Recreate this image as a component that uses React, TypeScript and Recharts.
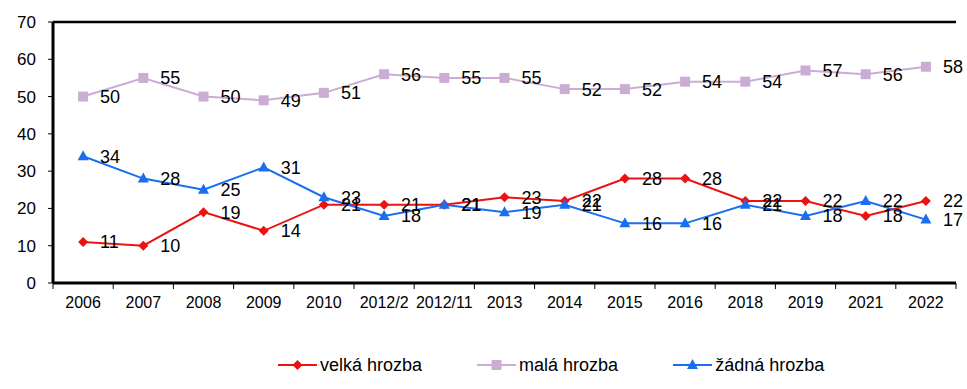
import React from "react";
import { LineChart, Line, XAxis, YAxis, CartesianGrid, Legend, LabelList, ReferenceLine } from "recharts";

const YEARS = ["2006", "2007", "2008", "2009", "2010", "2012/2", "2012/11", "2013", "2014", "2015", "2016", "2018", "2019", "2021", "2022"];
const VELKA = [11, 10, 19, 14, 21, 21, 21, 23, 22, 28, 28, 22, 22, 18, 22];
const MALA = [50, 55, 50, 49, 51, 56, 55, 55, 52, 52, 54, 54, 57, 56, 58];
const ZADNA = [34, 28, 25, 31, 23, 18, 21, 19, 21, 16, 16, 21, 18, 22, 17];
const Y_TICKS = [0, 10, 20, 30, 40, 50, 60, 70];

const SERIES = [
  { key: "velka", name: "velká hrozba", color: "#ee1111", shape: "diamond" },
  { key: "mala", name: "malá hrozba", color: "#cbadd3", shape: "square" },
  { key: "zadna", name: "žádná hrozba", color: "#1a6ef0", shape: "triangle" },
];

const data = YEARS.map((year, i) => ({ year, velka: VELKA[i], mala: MALA[i], zadna: ZADNA[i] }));

const W = 967;
const H = 389;
const M = { top: 22, right: 11, left: 0, bottom: 56 };
const Y_AXIS_W = 53;
const BAND = (W - M.left - M.right - Y_AXIS_W) / YEARS.length;
const FONT = "Arial, 'Liberation Sans', sans-serif";

function Marker({ cx, cy, shape, color }: { cx: number; cy: number; shape: string; color: string }) {
  if (cx == null || cy == null) return null;
  if (shape === "diamond") {
    return <polygon points={`${cx},${cy - 5} ${cx + 5},${cy} ${cx},${cy + 5} ${cx - 5},${cy}`} fill={color} />;
  }
  if (shape === "square") {
    return <rect x={cx - 5} y={cy - 5} width={10} height={10} fill={color} />;
  }
  return <polygon points={`${cx},${cy - 6} ${cx + 5.5},${cy + 4} ${cx - 5.5},${cy + 4}`} fill={color} />;
}

function XTick(props: any) {
  const { x, y, payload, index } = props;
  const last = index === YEARS.length - 1;
  return (
    <g>
      <line x1={x - BAND / 2} x2={x - BAND / 2} y1={y - 8} y2={y - 2} stroke="#000" />
      {last && <line x1={x + BAND / 2} x2={x + BAND / 2} y1={y - 8} y2={y - 2} stroke="#000" />}
      <text x={x} y={y + 17} textAnchor="middle" fontSize={16} fontFamily={FONT} fill="#000">
        {payload.value}
      </text>
    </g>
  );
}

function ValueLabel(props: any) {
  const { x, y, value } = props;
  return (
    <text x={x + 17} y={y + 6.5} fontSize={18} fontFamily={FONT} fill="#000">
      {value}
    </text>
  );
}

function LegendContent() {
  return (
    <div style={{ display: "flex", justifyContent: "flex-start", gap: 55, fontFamily: FONT, fontSize: 18, paddingLeft: 278, height: 20, alignItems: "center" }}>
      {SERIES.map((s) => (
        <div key={s.key} style={{ display: "flex", alignItems: "center" }}>
          <svg width={39} height={14} style={{ marginRight: 3 }}>
            <line x1={0} x2={39} y1={7} y2={7} stroke={s.color} strokeWidth={2} />
            <Marker cx={19.5} cy={7} shape={s.shape} color={s.color} />
          </svg>
          <span>{s.name}</span>
        </div>
      ))}
    </div>
  );
}

export default function App() {
  return (
    <div style={{ position: "fixed", left: 0, top: 0, width: W, height: H, background: "#fff" }}>
      <LineChart width={W} height={H} data={data} margin={M}>
        <CartesianGrid horizontal vertical={false} stroke="#000" strokeWidth={1} />
        <XAxis
          dataKey="year"
          scale="band"
          height={30}
          tick={<XTick />}
          tickLine={false}
          axisLine={{ stroke: "#000", strokeWidth: 3 }}
          interval={0}
        />
        <YAxis
          yAxisId="left"
          domain={[0, 70]}
          ticks={Y_TICKS}
          width={Y_AXIS_W}
          axisLine={{ stroke: "#000", strokeWidth: 3 }}
          tickLine={{ stroke: "#000" }}
          tickSize={5}
          tickMargin={12}
          tick={{ fill: "#000", fontSize: 17, fontFamily: FONT }}
        />
        <YAxis
          yAxisId="right"
          orientation="right"
          domain={[0, 70]}
          width={0}
          tick={false}
          tickLine={false}
          axisLine={{ stroke: "#000", strokeWidth: 2.5 }}
        />
        <ReferenceLine yAxisId="left" y={70} stroke="#000" strokeWidth={2.5} />
        <Legend verticalAlign="bottom" wrapperStyle={{ top: 355, height: 20 }} content={<LegendContent />} />
        {SERIES.map((s) => (
          <Line
            key={s.key}
            yAxisId="left"
            dataKey={s.key}
            name={s.name}
            stroke={s.color}
            strokeWidth={2}
            isAnimationActive={false}
            dot={(p: any) => <Marker key={`${s.key}-${p.index}`} cx={p.cx} cy={p.cy} shape={s.shape} color={s.color} />}
            activeDot={false}
          >
            <LabelList dataKey={s.key} content={<ValueLabel />} />
          </Line>
        ))}
      </LineChart>
    </div>
  );
}
